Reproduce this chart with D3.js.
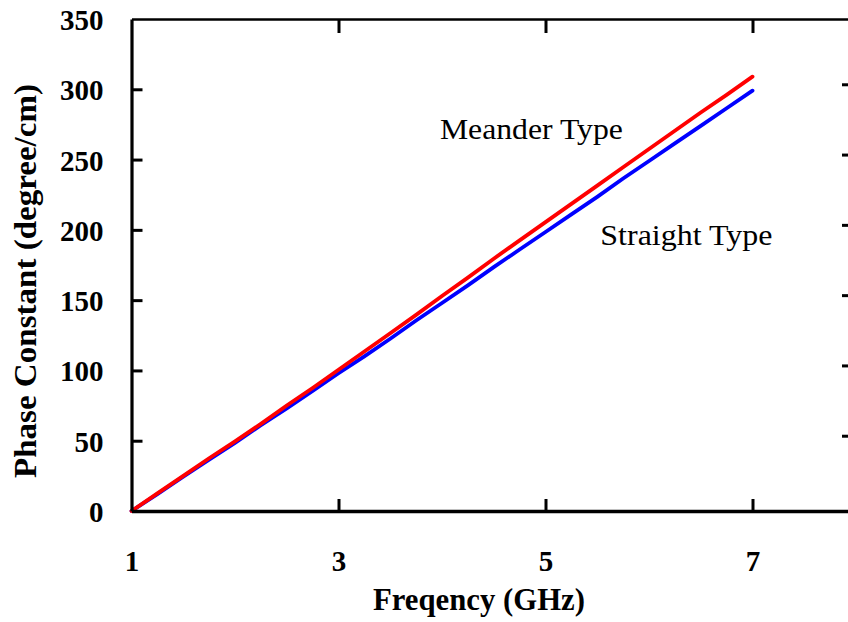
<!DOCTYPE html>
<html><head><meta charset="utf-8">
<script src="https://cdn.jsdelivr.net/npm/d3@7"></script>
<style>
html,body{margin:0;padding:0;background:#fff;}
svg{display:block;}
text{font-family:"Liberation Serif","Times New Roman",serif;}
</style></head>
<body>
<script>
const freq = [1,1.25,1.5,1.75,2,2.25,2.5,2.75,3,3.25,3.5,3.75,4,4.25,4.5,4.75,5,5.25,5.5,5.75,6,6.25,6.5,6.75,7];
const straightType = [0,12,24.5,36.5,48.5,61,73,85.5,98,110,122.5,135.5,148,160.5,173.5,186,198.5,211,223.5,236.5,249,261.5,274,286.5,299];
const meanderType = [0,12.5,25,37.5,49.5,62,75,87.5,100.5,113.5,126.5,139.5,153,166,179.5,192.5,205.5,218.5,231.5,244.5,257.5,270.5,283.5,296,309];
const xTicks = [1,3,5,7];
const yTicks = [0,50,100,150,200,250,300,350];
const xTitle = "Freqency (GHz)";
const yTitle = "Phase Constant (degree/cm)";
const labels = [{text:"Meander Type", f:3.98, v:264.6}, {text:"Straight Type", f:5.53, v:189.2}];

const W=848,H=622;
const m={left:131.5};
const svg=d3.select("body").append("svg").attr("width",W).attr("height",H);
const x=d3.scaleLinear().domain([1,8]).range([m.left,856]);
const y=d3.scaleLinear().domain([0,350]).range([511,19]);

// lines
const line=d3.line().x((d,i)=>x(freq[i])).y(d=>y(d));
svg.append("path").datum(straightType).attr("d",line).attr("fill","none")
  .attr("stroke","#0000ff").attr("stroke-width",3.8).attr("stroke-linejoin","round").attr("stroke-linecap","round");
svg.append("path").datum(meanderType).attr("d",line).attr("fill","none")
  .attr("stroke","#ff0000").attr("stroke-width",3.8).attr("stroke-linejoin","round").attr("stroke-linecap","round");

function styleAxis(g,w){
  g.select(".domain").attr("stroke","#000").attr("stroke-width",w);
  g.selectAll(".tick line").attr("stroke","#000").attr("stroke-width",3);
}
// bottom axis
const gx=svg.append("g").attr("transform","translate(0,511)")
  .call(d3.axisBottom(x).tickValues(xTicks).tickSizeInner(-12).tickSizeOuter(0).tickPadding(0).tickFormat(d3.format("d")));
styleAxis(gx,3.5);
gx.selectAll(".tick text").attr("y",60).attr("dy",0).attr("font-size",29).attr("font-weight","bold")
  .attr("fill","#000").attr("font-family","'Liberation Serif',serif");
gx.selectAll(".tick").filter(d=>d===1).select("line").remove();
// top axis
const gt=svg.append("g").attr("transform","translate(0,19)")
  .call(d3.axisTop(x).tickValues(xTicks.slice(1)).tickSizeInner(-14).tickSizeOuter(0).tickFormat(""));
styleAxis(gt,2.5);
// left axis
const gy=svg.append("g").attr("transform",`translate(${m.left},0)`)
  .call(d3.axisLeft(y).tickValues(yTicks).tickSizeInner(-11).tickSizeOuter(0).tickPadding(0).tickFormat(d3.format("d")));
styleAxis(gy,3.2);
gy.selectAll(".tick text").attr("x",-28).attr("dy","0.36em").attr("font-size",29).attr("font-weight","bold")
  .attr("fill","#000").attr("font-family","'Liberation Serif',serif");
gy.selectAll(".tick").filter(d=>d===0||d===350).select("line").remove();
// right axis (partially outside the canvas, slightly offset)
const gr=svg.append("g").attr("transform",`translate(856,-5)`)
  .call(d3.axisRight(y).tickValues(yTicks.slice(1,7)).tickSizeInner(-14).tickSizeOuter(0).tickFormat(""));
styleAxis(gr,3);

// titles
svg.append("text").attr("x",479).attr("y",610).attr("text-anchor","middle")
  .attr("font-size",31).attr("font-weight","bold").attr("textLength",212).attr("lengthAdjust","spacingAndGlyphs").text(xTitle);
svg.append("text").attr("transform","translate(36,281) rotate(-90)").attr("text-anchor","middle")
  .attr("font-size",31).attr("font-weight","bold").attr("textLength",394).attr("lengthAdjust","spacingAndGlyphs").text(yTitle);

// annotations
svg.selectAll(".ann").data(labels).enter().append("text").attr("class","ann")
  .attr("x",d=>x(d.f)).attr("y",d=>y(d.v)).attr("font-size",29)
  .attr("textLength",(d,i)=>i===0?183:172).attr("lengthAdjust","spacingAndGlyphs").text(d=>d.text);
</script>
</body></html>
